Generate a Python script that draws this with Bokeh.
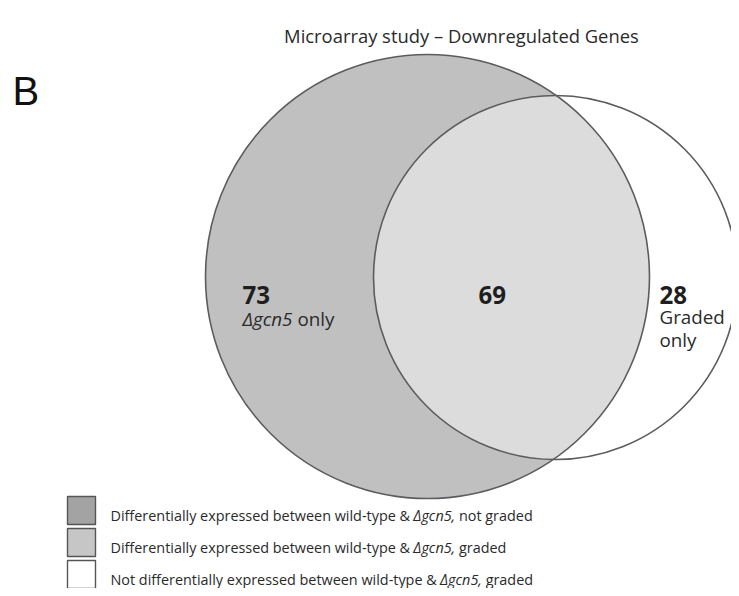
import os
import glob
import numpy as np
from bokeh.plotting import figure
from bokeh.models import Range1d
from bokeh.core.properties import value
from bokeh.embed import file_html
from bokeh.resources import INLINE

# ---------------- data ----------------
title_text = "Microarray study \u2013 Downregulated Genes"
panel_label = "B"
region_counts = [73, 69, 28]            # gcn5-only, both, graded-only
region_fills = ["#c0c0c0", "#dcdcdc", "#ffffff"]
legend_start = ["Differentially expressed between wild-type & ",
                "Differentially expressed between wild-type & ",
                "Not differentially expressed between wild-type & "]
legend_italic = ["\u0394gcn5,", "\u0394gcn5,", "\u0394gcn5,"]
legend_end = [" not graded", " graded", " graded"]
legend_colors = ["#a3a3a3", "#c6c6c6", "#ffffff"]

# ---------------- font measuring ----------------
def _find_fonts():
    files = []
    for root in ["/usr/share/fonts", "/usr/local/share/fonts",
                 os.path.expanduser("~/.fonts"), os.path.expanduser("~/.local/share/fonts")]:
        files += glob.glob(os.path.join(root, "**", "*OpenSans*"), recursive=True)
    out = {}
    for f in sorted(files):
        b = os.path.basename(f)
        if not b.lower().endswith((".ttf", ".otf")):
            continue
        if b.startswith("OpenSans-Regular"):
            out.setdefault("normal", (f, None))
        elif b.startswith("OpenSans-Italic"):
            out.setdefault("italic", (f, None))
        elif b.startswith("OpenSans-Bold.") or b.startswith("OpenSans-Bold-"):
            out.setdefault("bold", (f, None))
    var = [f for f in files if "wght" in os.path.basename(f)]
    for f in var:
        if "Italic" in os.path.basename(f):
            out.setdefault("italic", (f, None))
        else:
            out.setdefault("normal", (f, None))
            out.setdefault("bold", (f, "Bold"))
    return out

FONTS = _find_fonts()
_FALLBACK = {"normal": 0.55, "italic": 0.52, "bold": 0.60}

def text_w(s, size, style="normal"):
    try:
        from PIL import ImageFont
        path, var = FONTS[style]
        f = ImageFont.truetype(path, 100)
        if var:
            try:
                f.set_variation_by_name(var)
            except Exception:
                pass
        return f.getlength(s) * size / 100.0
    except Exception:
        return len(s) * size * _FALLBACK[style]

def fit(parts, target):
    w = sum(text_w(s, 100, st) for s, st in parts)
    return round(100.0 * target / w, 1)

# ---------------- figure ----------------
W, H = 731, 588
p = figure(width=W, height=H, x_range=Range1d(0, W), y_range=Range1d(H, 0),
           output_backend="svg", toolbar_location=None, min_border=0)
p.axis.visible = False
p.grid.visible = False
p.outline_line_color = None
p.background_fill_color = "white"
p.border_fill_color = "white"

# circle geometry (layout, picture pixels)
c1x, c1y, r1 = 427, 276, 222
c2x, c2y, r2 = 555, 277, 182

# fills
p.circle(x=[c1x], y=[c1y], radius=r1, fill_color=region_fills[0], line_color=None)
p.circle(x=[c2x], y=[c2y], radius=r2, fill_color=region_fills[2], line_color=None)

# lens (intersection) polygon
d = np.hypot(c2x - c1x, c2y - c1y)
a = (d * d + r1 * r1 - r2 * r2) / (2 * d)
h = np.sqrt(r1 * r1 - a * a)
t1 = np.arctan2(h, a)
t2 = np.arctan2(h, d - a)
ang1 = np.linspace(-t1, t1, 200)
ang2 = np.linspace(np.pi - t2, np.pi + t2, 200)
lx = np.concatenate([c1x + r1 * np.cos(ang1), c2x + r2 * np.cos(ang2)])
ly = np.concatenate([c1y + r1 * np.sin(ang1), c2y + r2 * np.sin(ang2)])
p.patch(x=lx, y=ly, fill_color=region_fills[1], line_color=None)

# outlines
for cx, cy, r in [(c1x, c1y, r1), (c2x, c2y, r2)]:
    p.circle(x=[cx], y=[cy], radius=r, fill_color=None, line_color="#5c5c5c", line_width=1.6)

# ---------------- texts ----------------
FONT = "Open Sans"
ink = "#1e1e1e"

def put(x, y, s, size, style="normal", color=ink, font=FONT):
    lead = len(s) - len(s.lstrip(" "))
    if lead:
        x += text_w(" " * lead, size, style)
        s = s.lstrip(" ")
    p.text(x=[x], y=[y], text=[s], text_font=value(font),
           text_font_size=value(f"{size}px"), text_font_style=style,
           text_color=color, text_baseline="alphabetic", text_align="left")

def put_runs(x, y, runs, size, color=ink):
    cx = x
    for s, st in runs:
        put(cx, y, s, size, st, color)
        cx += text_w(s, size, st)

# title
ts = fit([(title_text, "normal")], 353)
tw = text_w(title_text, ts)
put(460.5 - tw / 2, 35, title_text, ts, color="#2a2a2a")

# panel label
p.text(x=[12], y=[90], text=[panel_label], text_font=value("Liberation Sans"),
       text_font_size=value("40px"), text_color="#111111",
       text_baseline="alphabetic", text_align="left")

# counts
ns = fit([(str(region_counts[0]), "bold")], 27.5)
count_pos = [(242, 294), (478, 294), (659, 294)]
for (x, y), n in zip(count_pos, region_counts):
    put(x, y, str(n), ns, "bold")

# sub labels
ls = fit([("\u0394gcn5", "italic"), (" only", "normal")], 92)
put_runs(242, 318, [("\u0394gcn5", "italic"), (" only", "normal")], ls, color="#2a2a2a")
put(659, 316, "Graded", ls, color="#2a2a2a")
put(659, 339, "only", ls, color="#2a2a2a")

# legend
sq_left, sq_size, row0, pitch = 67, 28, 496, 32
gs = fit([(legend_start[0], "normal"), (legend_italic[0], "italic"), (legend_end[0], "normal")], 422)
for i in range(3):
    top = row0 + i * pitch
    p.quad(left=[sq_left], right=[sq_left + sq_size],
           top=[top], bottom=[top + sq_size],
           fill_color=legend_colors[i], line_color="#555555", line_width=1.4)
    put_runs(110, top + sq_size / 2 + gs * 0.36,
             [(legend_start[i], "normal"), (legend_italic[i], "italic"), (legend_end[i], "normal")],
             gs, color="#2a2a2a")

open("out.html", "w").write(file_html(p, INLINE))
